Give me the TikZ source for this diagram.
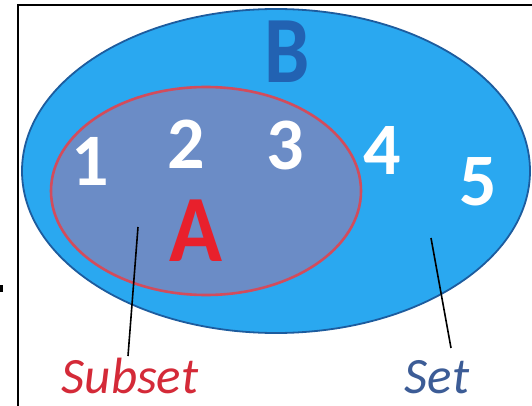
\documentclass[tikz,border=0pt]{standalone}
\usepackage{fontspec}
\setmainfont{Carlito}
\definecolor{bfill}{HTML}{2AA8F0}
\definecolor{bline}{HTML}{1D5C9E}
\definecolor{afill}{HTML}{6B8CC6}
\definecolor{aline}{HTML}{D24C5C}
\definecolor{bletter}{HTML}{2262B2}
\definecolor{aletter}{HTML}{E8202C}
\definecolor{subred}{HTML}{D42A38}
\definecolor{setblue}{HTML}{3C5C96}
\tikzset{
  num/.style={inner sep=0pt, anchor=base, text=white, font=\fontsize{74}{74}\selectfont\bfseries},
  setletter/.style={inner sep=0pt, anchor=base, font=\fontsize{95}{95}\selectfont\bfseries},
  caption/.style={inner sep=0pt, anchor=base, font=\fontsize{51}{51}\selectfont\itshape},
  pointer/.style={line width=1.6pt, black}
}
\begin{document}
\begin{tikzpicture}[x=1pt,y=-1pt]
\useasboundingbox (0,0) rectangle (532,406);
\fill[white] (0,0) rectangle (532,406);
% frame
\draw[line width=2pt] (18,406) -- (18,5) -- (532,5);
\fill (0,285) rectangle (3,292);
% set B
\draw[fill=bfill, draw=bline, line width=1.8pt] (276,171) ellipse [x radius=254, y radius=162];
% subset A
\draw[fill=afill, draw=aline, line width=2.6pt] (206,191) ellipse [x radius=155, y radius=104];
% labels
\node[setletter, text=bletter, xscale=0.85] (nB) at (287,83) {B};
\node[setletter, text=aletter, xscale=0.92] (nA) at (196,261) {A};
\node[num] (n1) at (90,185) {1};
\node[num] (n2) at (186,168) {2};
\node[num] (n3) at (285,170) {3};
\node[num] (n4) at (382,175) {4};
\node[num] (n5) at (478,205) {5};
\node[caption, text=subred] (subset) at (130,393) {Subset};
\node[caption, text=setblue] (set) at (437,393) {Set};
% pointers
\coordinate (pa) at (138,227);
\coordinate (pb) at (128,356);
\coordinate (qa) at (431,238);
\coordinate (qb) at (451,348);
\draw[pointer] (pa) -- (pb);
\draw[pointer] (qa) -- (qb);
\end{tikzpicture}
\end{document}
